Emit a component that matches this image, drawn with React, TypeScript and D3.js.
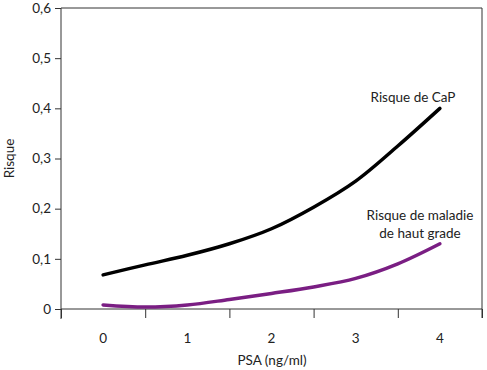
import React, { useRef, useEffect } from 'react';
import * as d3 from 'd3';

const psa = [0, 0.5, 1, 1.5, 2, 2.5, 3, 3.5, 4];
const risqueCaP = [0.068, 0.088, 0.107, 0.13, 0.16, 0.203, 0.255, 0.325, 0.4];
const risqueHautGrade = [0.008, 0.004, 0.008, 0.019, 0.031, 0.044, 0.061, 0.09, 0.13];
const xLabels = [0, 1, 2, 3, 4];
const yTicks = [0, 0.1, 0.2, 0.3, 0.4, 0.5, 0.6];

const W = 487;
const H = 370;
const FONT = 'Lato, "Open Sans", sans-serif';
const FS = 13.5;

const App = () => {
  const svgRef = useRef<SVGSVGElement>(null);

  useEffect(() => {
    const svg = d3.select(svgRef.current);
    svg.selectAll('*').remove();

    const left = 61, right = 482, top = 8, bottom = 309;

    const x = d3.scaleLinear().domain([-0.5, 4.5]).range([left, right]);
    const y = d3.scaleLinear().domain([0, 0.6]).range([bottom, top]);

    const axisColor = '#333';

    // y axis
    const yAxis = svg.append('g')
      .attr('transform', `translate(${left},0)`)
      .call(d3.axisLeft(y).tickValues(yTicks).tickSize(6).tickPadding(4)
        .tickFormat(d => d === 0 ? '0' : d3.format('.1f')(d as number).replace('.', ',')));
    yAxis.select('.domain').remove();
    yAxis.selectAll('line').attr('stroke', axisColor);
    yAxis.selectAll('text').attr('font-family', FONT).attr('font-size', FS).attr('fill', '#222');

    // x ticks (between labels)
    const xAxis = svg.append('g')
      .attr('transform', `translate(0,${bottom})`)
      .call(d3.axisBottom(x).tickValues(d3.range(-0.5, 5, 1)).tickSize(9).tickFormat(() => ''));
    xAxis.select('.domain').remove();
    xAxis.selectAll('line').attr('stroke', axisColor);

    svg.append('g').selectAll('text')
      .data(xLabels)
      .join('text')
      .attr('x', d => x(d))
      .attr('y', 343)
      .attr('text-anchor', 'middle')
      .attr('font-family', FONT)
      .attr('font-size', FS)
      .attr('fill', '#222')
      .text(d => d);

    // frame
    svg.append('path')
      .attr('d', `M${left},${bottom + 10}V${top}H${right}V${bottom + 9}`)
      .attr('fill', 'none')
      .attr('stroke', axisColor)
      .attr('stroke-width', 1);
    svg.append('line')
      .attr('x1', left).attr('x2', right)
      .attr('y1', bottom).attr('y2', bottom)
      .attr('stroke', axisColor);

    const line = d3.line<number>()
      .x((_, i) => x(psa[i]))
      .y(d => y(d))
      .curve(d3.curveCatmullRom);

    svg.append('path')
      .datum(risqueCaP)
      .attr('d', line)
      .attr('fill', 'none')
      .attr('stroke', '#000')
      .attr('stroke-width', 3.5)
      .attr('stroke-linecap', 'round');

    svg.append('path')
      .datum(risqueHautGrade)
      .attr('d', line)
      .attr('fill', 'none')
      .attr('stroke', '#7a1e83')
      .attr('stroke-width', 3.5)
      .attr('stroke-linecap', 'round');

    const label = (tx: number, ty: number, s: string) =>
      svg.append('text')
        .attr('x', tx).attr('y', ty)
        .attr('text-anchor', 'middle')
        .attr('font-family', FONT)
        .attr('font-size', FS)
        .attr('fill', '#222')
        .text(s);

    label(413, 102, 'Risque de CaP');
    label(420, 220, 'Risque de maladie');
    label(420, 238, 'de haut grade');
    label(272, 365, 'PSA (ng/ml)');

    svg.append('text')
      .attr('transform', `translate(14,${(top + bottom) / 2}) rotate(-90)`)
      .attr('text-anchor', 'middle')
      .attr('font-family', FONT)
      .attr('font-size', FS)
      .attr('fill', '#222')
      .text('Risque');
  }, []);

  return (
    <svg ref={svgRef} width={W} height={H}
      style={{ position: 'absolute', left: 0, top: 0, background: '#fff' }} />
  );
};

export default App;
